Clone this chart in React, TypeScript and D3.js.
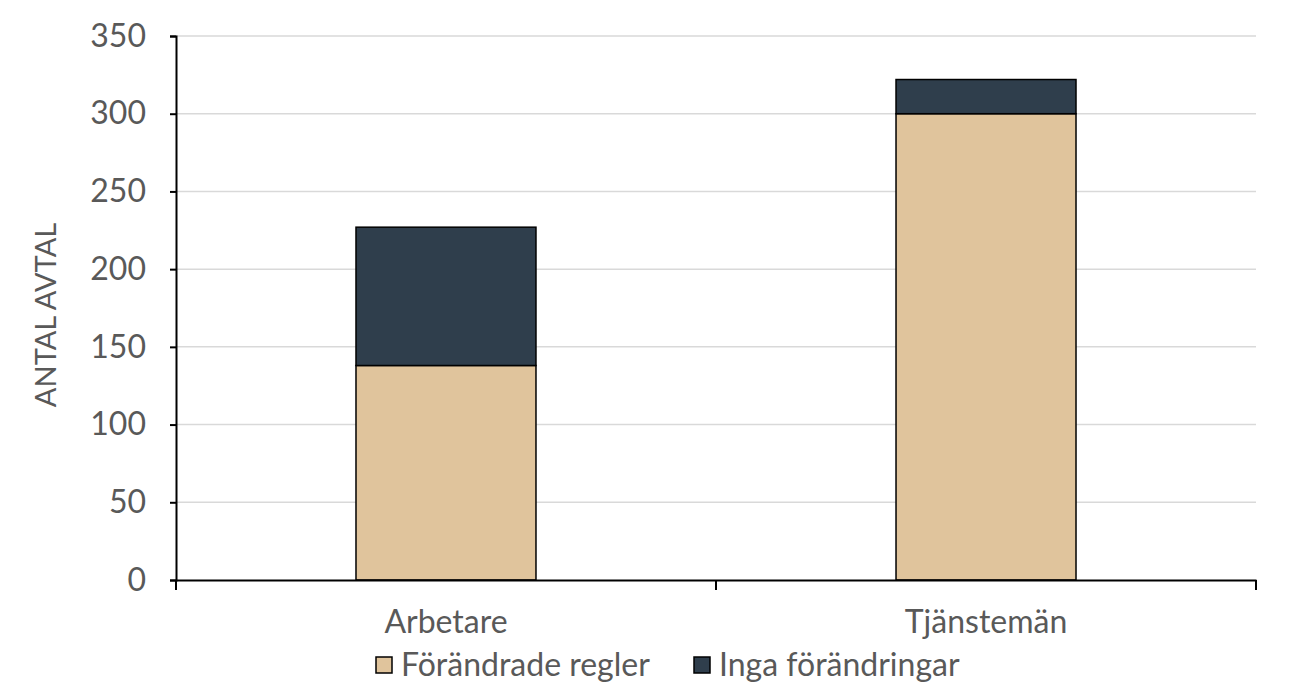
import { useRef, useEffect } from "react";
import * as d3 from "d3";

const categories = ["Arbetare", "Tjänstemän"];
const seriesNames = ["Förändrade regler", "Inga förändringar"];
const forandradeRegler = [138, 300];
const ingaForandringar = [89, 22];
const yTicks = [0, 50, 100, 150, 200, 250, 300, 350];

const colors = ["#E0C49C", "#2F3E4C"];
const font = "Lato, 'Noto Sans', sans-serif";

const App = () => {
  const svgRef = useRef<SVGSVGElement | null>(null);
  const width = 1296;
  const height = 697;

  useEffect(() => {
    if (!svgRef.current) return;
    const svg = d3.select(svgRef.current);
    svg.selectAll("*").remove();

    const margin = { top: 36, right: 40, bottom: 117, left: 176 };
    const innerWidth = width - margin.left - margin.right;
    const innerHeight = height - margin.top - margin.bottom;

    const x = d3
      .scaleBand()
      .domain(categories)
      .range([0, innerWidth])
      .paddingInner(0.6667)
      .paddingOuter(0.3333);

    const y = d3.scaleLinear().domain([0, 350]).range([innerHeight, 0]);

    const g = svg
      .append("g")
      .attr("transform", `translate(${margin.left},${margin.top})`);

    // gridlines
    g.append("g")
      .selectAll("line")
      .data(yTicks.filter((t) => t > 0))
      .join("line")
      .attr("x1", 0)
      .attr("x2", innerWidth)
      .attr("y1", (d) => y(d))
      .attr("y2", (d) => y(d))
      .attr("stroke", "#d9d9d9")
      .attr("stroke-width", 1.5);

    // stacked bars
    const rows = categories.map((c, i) => ({
      category: c,
      [seriesNames[0]]: forandradeRegler[i],
      [seriesNames[1]]: ingaForandringar[i],
    }));
    const stacked = d3.stack<any>().keys(seriesNames)(rows);

    g.append("g")
      .selectAll("g")
      .data(stacked)
      .join("g")
      .attr("fill", (_d, i) => colors[i])
      .selectAll("rect")
      .data((d) => d)
      .join("rect")
      .attr("x", (d) => x(d.data.category) as number)
      .attr("width", x.bandwidth())
      .attr("y", (d) => y(d[1]))
      .attr("height", (d) => y(d[0]) - y(d[1]))
      .attr("stroke", "#000")
      .attr("stroke-width", 1.5);

    // y axis
    const yAxis = g
      .append("g")
      .call(d3.axisLeft(y).tickValues(yTicks).tickSize(6).tickPadding(24));
    yAxis.select(".domain").attr("stroke", "#000").attr("stroke-width", 2);
    yAxis.selectAll(".tick line").attr("stroke", "#000").attr("stroke-width", 2);
    yAxis
      .selectAll(".tick text")
      .attr("fill", "#595959")
      .style("font-family", font)
      .style("font-size", "32px");

    // x axis
    const xAxis = g
      .append("g")
      .attr("transform", `translate(0,${innerHeight})`)
      .call(d3.axisBottom(x).tickSize(0).tickPadding(30));
    xAxis.select(".domain").attr("stroke", "#000").attr("stroke-width", 2);
    xAxis
      .selectAll(".tick text")
      .attr("fill", "#595959")
      .style("font-family", font)
      .style("font-size", "32px");

    // category boundary ticks
    const boundaries = d3
      .range(categories.length + 1)
      .map((i) => i * (innerWidth / categories.length));
    g.append("g")
      .selectAll("line")
      .data(boundaries)
      .join("line")
      .attr("x1", (d) => d)
      .attr("x2", (d) => d)
      .attr("y1", innerHeight)
      .attr("y2", innerHeight + 10)
      .attr("stroke", "#000")
      .attr("stroke-width", 2);

    // y title
    svg
      .append("text")
      .attr("transform", `translate(56,315) rotate(-90)`)
      .attr("text-anchor", "middle")
      .attr("fill", "#595959")
      .style("font-family", font)
      .style("font-size", "29px")
      .text("ANTAL AVTAL");

    // legend
    const legend = svg.append("g").attr("transform", "translate(376,665)");
    const items = [
      { name: seriesNames[0], color: colors[0], x: 0 },
      { name: seriesNames[1], color: colors[1], x: 318 },
    ];
    const item = legend
      .selectAll("g")
      .data(items)
      .join("g")
      .attr("transform", (d) => `translate(${d.x},0)`);
    item
      .append("rect")
      .attr("x", 0)
      .attr("y", -8)
      .attr("width", 16)
      .attr("height", 16)
      .attr("fill", (d) => d.color)
      .attr("stroke", "#000")
      .attr("stroke-width", 1.5);
    item
      .append("text")
      .attr("x", 25)
      .attr("y", 0)
      .attr("dy", "0.35em")
      .attr("fill", "#595959")
      .style("font-family", font)
      .style("font-size", "32px")
      .text((d) => d.name);
  }, []);

  return (
    <div style={{ position: "absolute", left: 0, top: 0 }}>
      <svg ref={svgRef} width={width} height={height} style={{ display: "block", background: "#fff" }}></svg>
    </div>
  );
};

export default App;
